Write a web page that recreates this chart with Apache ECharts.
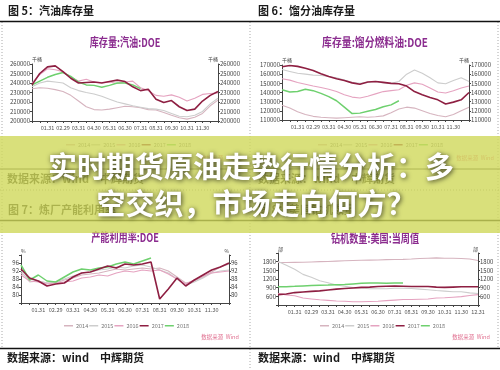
<!DOCTYPE html>
<html><head><meta charset="utf-8">
<script src="https://cdn.jsdelivr.net/npm/echarts@6/dist/echarts.min.js"></script>
<style>html,body{margin:0;padding:0;background:#fff}#c{width:500px;height:370px}</style>
</head><body><div id="c"></div>
<script>
// ---------- data ----------
const dates = ['01.01','01.15','01.31','02.15','02.29','03.15','03.31','04.15','04.30','05.15','05.31','06.15','06.30','07.15','07.31','08.15','08.31','09.15','09.30','10.15','10.31','11.15','11.30','12.15','12.31'];
const years = ['2014','2015','2016','2017','2018'];

// 图5 汽油库存量 (千桶)
const gas2014 = [234000,235000,234500,233000,231000,227000,221000,215000,212000,211500,212500,214000,215500,215000,214000,212000,211500,209000,206000,203500,202000,204000,208000,216000,222000];
const gas2015 = [236000,240000,242000,241000,240000,235000,232000,230000,228500,226000,223000,220000,218000,216000,214500,213000,212500,211000,208000,205000,204500,206000,210000,218000,224000];
const gas2016 = [240000,249000,255000,254000,252000,246000,242000,244000,241000,240500,241000,239500,241000,242000,235000,232000,227000,226000,227500,225000,221000,224000,228000,229000,229500];
const gas2017 = [238000,250000,257000,258000,252000,245000,240000,240500,241000,240000,241500,243000,241500,236000,232000,233500,223000,219500,221500,215000,211000,212500,221000,227000,231000];
const gas2018 = [238000,242000,246000,249000,251000,247000,241000,238000,237500,235500,237500,240000,240000,238000,234000];

// 图6 馏分油库存量 (千桶)
const dist2014 = [126000,123000,119000,116000,114000,113000,112500,112000,112500,113000,113500,113000,113500,114500,118000,122000,124000,123000,120000,117000,115000,113500,116000,120000,124000];
const dist2015 = [165000,163000,161000,160000,159000,158500,157500,156000,153500,151000,150000,151000,152000,150500,150000,152000,160000,164500,161000,156000,150500,149500,153000,156000,152000];
const dist2016 = [155000,153500,151000,149000,147000,145500,143500,141000,137500,135000,134000,136000,138500,141000,142000,143000,148000,150500,149000,145000,140500,139500,142000,145000,147000];
const dist2017 = [168000,169500,168500,166500,164000,160500,157500,155000,153000,150500,149000,151500,152000,151000,150000,149500,147000,141000,137500,134500,132000,127500,129500,132000,140000];
const dist2018 = [143000,140500,141000,143500,142000,139000,135500,131000,124000,117000,117500,119500,121500,124500,126500,131000];

// 图7 炼厂产能利用率 (%)
const util2014 = [91,88,87,86,86,87.5,88.5,90,90.5,91,92,93,92.5,93,93.5,93,93.5,92,89,86,87,89,91.5,94,95.5];
const util2015 = [92,86.5,87,86,86.5,88,89.5,91,91.5,92.5,93,94,93.5,94.5,95,94,92.5,91,88,85,86.5,88.5,91,92,92.5];
const util2016 = [90,87,86.5,85.5,86,86.5,87,88.5,89,90,89.5,91,92,91.5,92.5,92,92.5,90.5,88,85.5,87.5,89.5,91,91.5,92];
const util2017 = [93,88.5,87,84.5,85.5,86,89,91,91.5,93,94.5,93.5,95.5,95,95.5,96.5,78,83,88.5,84.5,87.5,90,92.5,94,96];
const util2018 = [95,87.5,90,87,86.5,89,91.5,93,92.5,93.5,94,95.5,96.5,95.5,97,98.5];

// 图8 钻机数量:美国:当周值 (部)
const rigs2014 = [1770,1770,1775,1780,1790,1800,1805,1820,1830,1840,1850,1855,1860,1870,1875,1880,1890,1910,1920,1930,1920,1920,1910,1890,1840];
const rigs2015 = [1810,1680,1540,1360,1260,1140,1070,990,950,900,890,860,860,860,880,880,870,850,830,800,780,760,760,720,700];
const rigs2016 = [700,650,620,540,510,480,460,440,430,410,410,420,430,450,470,490,490,500,510,540,550,570,590,630,660];
const rigs2017 = [660,680,730,750,770,790,820,850,870,890,910,920,940,950,960,950,940,940,940,920,910,920,930,930,930];
const rigs2018 = [930,935,945,960,975,985,990,1000,1010,1030,1050,1060,1060,1055,1060,1060];

// ---------- styling ----------
const COLORS = ['#d6b4bf','#cdcdcd','#e5a3c0','#8e1f42','#6ed06e'];
const WIDTHS = [1.1,1.1,1.1,1.6,1.5];
const ZS = [2,2,3,5,4];
const FONT = '"Noto Sans CJK SC", "Noto Sans", sans-serif';
const PURPLE = '#8b2c8f';

const panels = [
  {grid:{left:32, top:64, width:186, height:57}, min:200000, max:260000, interval:10000, hideEnds:false, lastLabel:22, unit:'千桶', data:[gas2014,gas2015,gas2016,gas2017,gas2018], legend:{left:66, top:142}},
  {grid:{left:282, top:65, width:187, height:55}, min:110000, max:170000, interval:10000, hideEnds:false, lastLabel:22, unit:'千桶', data:[dist2014,dist2015,dist2016,dist2017,dist2018], legend:{left:318, top:142}},
  {grid:{left:21, top:255, width:208, height:48}, min:76, max:100, interval:4, hideEnds:true, lastLabel:22, unit:'%', data:[util2014,util2015,util2016,util2017,util2018], legend:{left:64, top:323}},
  {grid:{left:278, top:253, width:200, height:52}, min:300, max:2100, interval:300, hideEnds:true, lastLabel:24, unit:'部', data:[rigs2014,rigs2015,rigs2016,rigs2017,rigs2018], legend:{left:320, top:323}}
];

const grids = [], xAxes = [], yAxes = [], series = [], legends = [];
panels.forEach((p, g) => {
  grids.push(Object.assign({containLabel:false}, p.grid));
  xAxes.push({
    gridIndex:g, type:'category', data:dates, boundaryGap:false,
    axisLine:{lineStyle:{color:'#444', width:1}},
    axisTick:{interval:0, length:2, lineStyle:{color:'#444'}},
    axisLabel:{interval:(i)=> i%2===0 && i>0 && i<=p.lastLabel, fontSize:5.5, color:'#555', margin:4, fontFamily:FONT}
  });
  ['left','right'].forEach(pos => {
    yAxes.push({
      gridIndex:g, type:'value', position:pos, min:p.min, max:p.max, interval:p.interval,
      name:p.unit, nameLocation:'end', nameGap:1,
      nameTextStyle:{fontSize:5, color:'#444', align: pos==='left'?'left':'right', fontFamily:FONT},
      axisLine:{show:true, lineStyle:{color:'#444', width:1}},
      axisTick:{show:true, length:2, lineStyle:{color:'#444'}},
      splitLine:{show:false},
      axisLabel:{fontSize:6, color:'#444', margin:2, fontFamily:FONT,
        formatter:(v)=> (p.hideEnds && (v===p.min || v===p.max)) ? '' : String(v)}
    });
  });
  years.forEach((y, k) => {
    series.push({
      name:y, type:'line', xAxisIndex:g, yAxisIndex:g*2, data:p.data[k],
      symbol:'none', showSymbol:false, z:ZS[k], silent:true,
      lineStyle:{width:WIDTHS[k], color:COLORS[k]}, itemStyle:{color:COLORS[k]}
    });
  });
  legends.push({
    data:years, left:p.legend.left, top:p.legend.top, orient:'horizontal',
    icon:'rect', itemWidth:9, itemHeight:1.5, itemGap:1, padding:0,
    textStyle:{fontSize:5.5, color:'#777', fontFamily:FONT, padding:[0,0,0,-2]},
    selectedMode:false
  });
});

function txt(x, y, text, opts) {
  return Object.assign({type:'text', x:x, y:y, silent:true,
    style:Object.assign({text:text, fill:'#1a1a1a', font:'bold 11px ' + FONT, textAlign:'left', textVerticalAlign:'middle'}, opts.style||{})},
    opts.el||{});
}
function line(x1,y1,x2,y2,stroke,w,dash,z){
  return {type:'line', silent:true, z:z||1, shape:{x1:x1,y1:y1,x2:x2,y2:y2}, style:{stroke:stroke, lineWidth:w, lineDash:dash||null}};
}
const bannerStyle = {fill:'#ffffff',font:'bold 29px '+FONT,textAlign:'center',
  textShadowColor:'rgba(0,0,0,0.7)',textShadowBlur:5,textShadowOffsetX:1,textShadowOffsetY:1,
  shadowColor:'rgba(0,0,0,0.7)',shadowBlur:5,shadowOffsetX:1,shadowOffsetY:1};
const graphics = [
  // borders
  line(2,22,2,348,'#aaa',1,[1,2]),
  line(250,22,250,370,'#aaa',1,[1,2]),
  line(498,22,498,348,'#aaa',1,[1,2]),
  line(0,21.5,500,21.5,'#111',1.3),
  line(0,169,500,169,'#333',1),
  line(0,190,500,190,'#999',1,[1,2]),
  line(0,220.5,500,220.5,'#111',1.3),
  line(0,348.5,500,348.5,'#111',1.5),
  // panel headers
  txt(8,11,'图 5：汽油库存量',{}),
  txt(258,11,'图 6：馏分油库存量',{}),
  txt(8,210,'图 7：炼厂产能利用率',{}),
  txt(258,210,'图 8：美国钻机数量',{}),
  txt(7,179,'数据来源：wind　中辉期货',{}),
  txt(258,179,'数据来源：wind　中辉期货',{}),
  txt(7,358,'数据来源：wind　中辉期货',{}),
  txt(258,358,'数据来源：wind　中辉期货',{}),
  // chart titles
  txt(125,42,'库存量:汽油:DOE',{style:{fill:PURPLE,font:'bold 12px '+FONT,textAlign:'center'},el:{scaleX:0.76}}),
  txt(375,42,'库存量:馏分燃料油:DOE',{style:{fill:PURPLE,font:'bold 12px '+FONT,textAlign:'center'},el:{scaleX:0.82}}),
  txt(125,237,'产能利用率:DOE',{style:{fill:PURPLE,font:'bold 12px '+FONT,textAlign:'center'},el:{scaleX:0.76}}),
  txt(375,238,'钻机数量:美国:当周值',{style:{fill:PURPLE,font:'bold 12px '+FONT,textAlign:'center'},el:{scaleX:0.76}}),
  // small source notes
  txt(220,158,'数据来源  Wind',{style:{fill:'#e07090',font:'5.5px '+FONT,textAlign:'center'}}),
  txt(475,158,'数据来源  Wind',{style:{fill:'#e07090',font:'5.5px '+FONT,textAlign:'center'}}),
  txt(220,337,'数据来源  Wind',{style:{fill:'#e07090',font:'5.5px '+FONT,textAlign:'center'}}),
  txt(471,337,'数据来源  Wind',{style:{fill:'#e07090',font:'5.5px '+FONT,textAlign:'center'}}),
  // banner
  {type:'rect', silent:true, z:100, shape:{x:0,y:136,width:500,height:97}, style:{fill:'rgba(208,216,90,0.8)'}},
  txt(251,167,'实时期货原油走势行情分析：多',{style:bannerStyle,el:{z:101}}),
  txt(256,204,'空交织，市场走向何方？',{style:bannerStyle,el:{z:101}})
];

const chart = echarts.init(document.getElementById('c'), null, {renderer:'canvas'});
chart.setOption({
  animation:false,
  backgroundColor:'#ffffff',
  grid:grids, xAxis:xAxes, yAxis:yAxes, series:series, legend:legends,
  graphic:{elements:graphics}
});
</script></body></html>
